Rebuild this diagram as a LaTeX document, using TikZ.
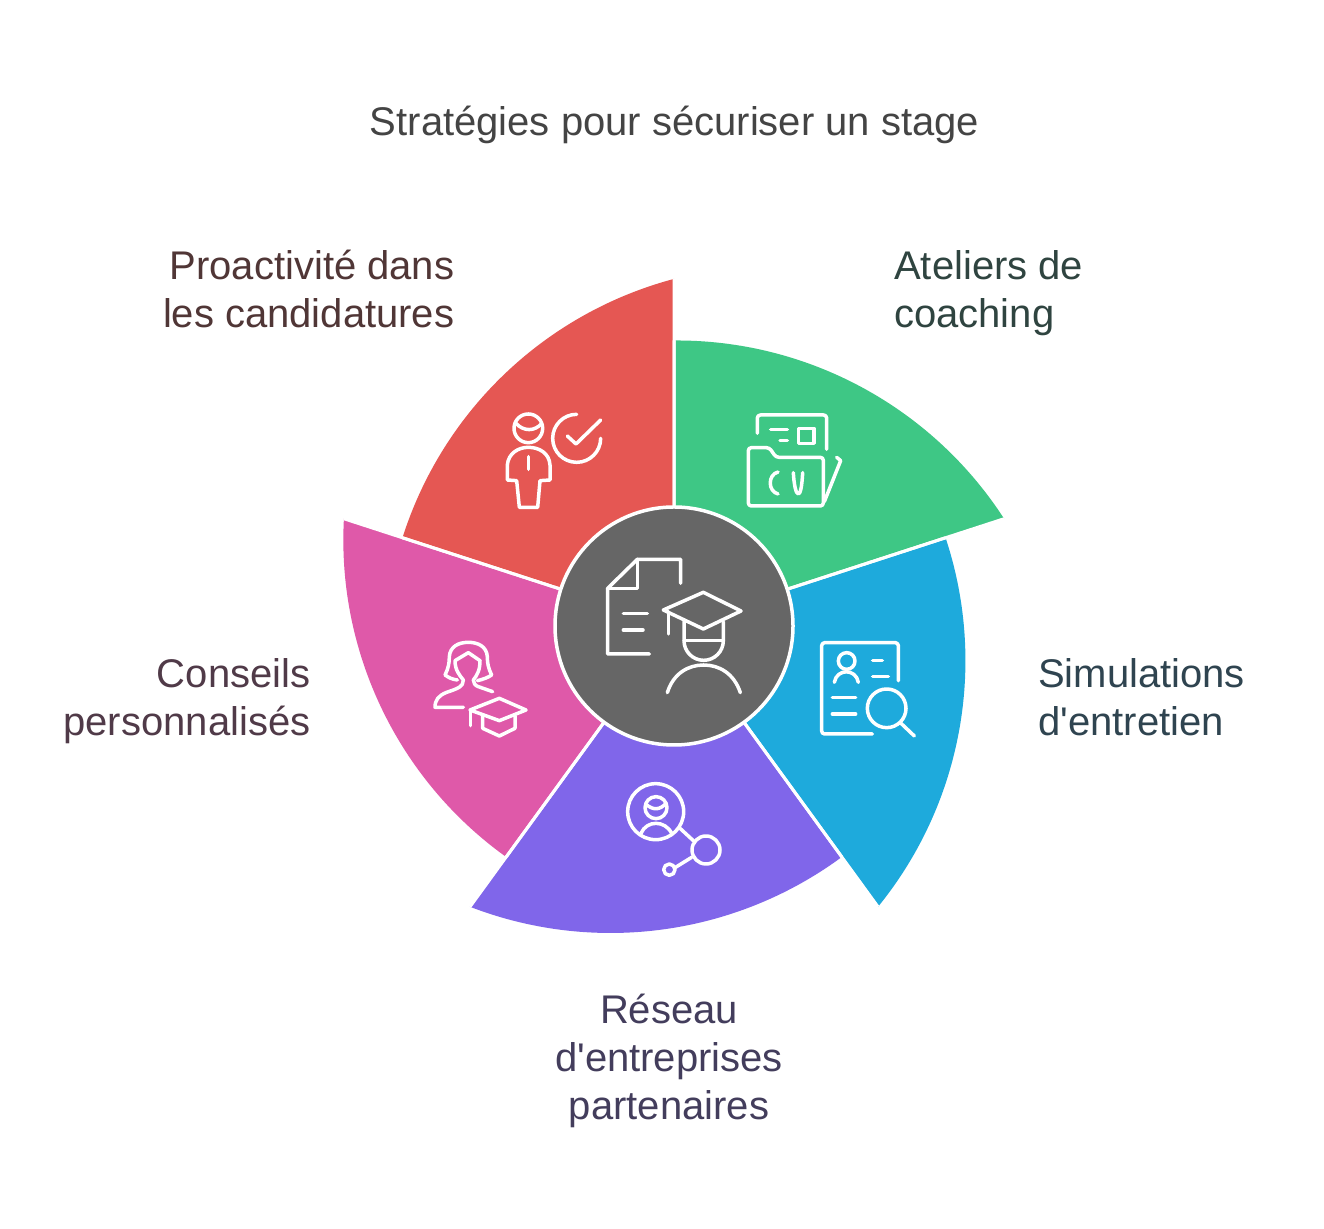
\documentclass[tikz,border=0pt]{standalone}
\usepackage{fontspec}
\newfontfamily\labelfont{Liberation Sans}
\definecolor{cRed}{HTML}{E55753}
\definecolor{cGreen}{HTML}{3EC785}
\definecolor{cBlue}{HTML}{1EAADC}
\definecolor{cPurple}{HTML}{8066EA}
\definecolor{cPink}{HTML}{DF59A9}
\definecolor{cHub}{HTML}{666666}
\definecolor{tTitle}{HTML}{444444}
\definecolor{tRed}{HTML}{503636}
\definecolor{tGreen}{HTML}{2F4440}
\definecolor{tBlue}{HTML}{2F4450}
\definecolor{tPurple}{HTML}{433D5C}
\definecolor{tPink}{HTML}{503A48}
\tikzset{
  petaledge/.style={draw=white,line width=3pt,line join=miter},
  lbl/.style={inner sep=0pt,font=\labelfont\fontsize{40}{48}\selectfont},
  ico/.style={draw=white,line width=3.5pt,line cap=round,line join=round}
}
\newcommand{\petalfill}[2]{%
  \begin{scope}[shift={(674,602)},rotate=#1]
    \fill[#2] (0,0) -- (-54:285.5) arc[start angle=-53.62,end angle=-111.14,radius=390pt] -- cycle;
  \end{scope}}
\newcommand{\petaledges}[1]{%
  \begin{scope}[shift={(674,602)},rotate=#1]
    \draw[petaledge] (-54:285.5) -- (0,0) -- (-126:347);
  \end{scope}}
\begin{document}
\begin{tikzpicture}[x=1pt,y=1pt]
\useasboundingbox (0,0) rectangle (1324,1228);
\fill[white] (0,0) rectangle (1324,1228);
\petalfill{144}{cGreen}
\petalfill{72}{cBlue}
\petalfill{0}{cPurple}
\petalfill{-72}{cPink}
\petalfill{-144}{cRed}
\petaledges{144}
\petaledges{72}
\petaledges{0}
\petaledges{-72}
\petaledges{-144}
\node[circle,fill=cHub,draw=white,line width=3.5pt,minimum size=238pt,inner sep=0pt] (hub) at (674,602) {};

\node[lbl,text=tTitle,anchor=base] (title) at (674.5,1092) {Stratégies pour sécuriser un stage};
\node[lbl,text=tRed,align=right,anchor=north east] (l1) at (454.5,978) {Proactivité dans\\les candidatures};
\node[lbl,text=tGreen,align=left,anchor=north west] (l2) at (894,978) {Ateliers de\\coaching};
\node[lbl,text=tBlue,align=left,anchor=north west] (l3) at (1038,570) {Simulations\\d'entretien};
\node[lbl,text=tPurple,align=center,anchor=north] (l4) at (669,234) {Réseau\\d'entreprises\\partenaires};
\node[lbl,text=tPink,align=right,anchor=north east] (l5) at (310.5,570) {Conseils\\personnalisés};

% hub icon
\begin{scope}[shift={(560,718)},x=0.33333pt,y=-0.33333pt]
\draw[ico] (362,220) -- (362,148) -- (232,148) -- (143,235) -- (143,432) -- (268,432);
\draw[ico] (232,148) -- (232,235) -- (143,235);
\draw[ico] (190,310) -- (262,310) (190,360) -- (249,360);
\draw[ico] (430,247) -- (543,303) -- (430,357) -- (310,300) -- cycle;
\draw[ico] (325,305) -- (325,372);
\draw[ico] (372,335) -- (372,392) arc[start angle=180,end angle=0,radius=59] -- (490,335);
\draw[ico] (372,392) -- (490,392);
\draw[ico] (322,548) .. controls (340,490) and (385,465) .. (431,465) .. controls (477,465) and (522,490) .. (541,548);
\end{scope}
% green icon
\begin{scope}[shift={(730,828)},x=0.33333pt,y=-0.33333pt]
\draw[ico,rounded corners=3pt] (82,100) -- (82,45) -- (290,45) -- (290,148);
\draw[ico] (122,88) -- (172,88) (150,122) -- (172,122);
\draw[ico] (205,85) rectangle (252,130);
\draw[ico,rounded corners=3pt] (55,143) -- (118,143) -- (138,172) -- (280,172) -- (280,318) -- (55,318) -- cycle;
\draw[ico] (144,216) .. controls (113,224) and (113,274) .. (144,282);
\draw[ico] (190,218) .. controls (192,255) and (198,282) .. (205,282) .. controls (212,282) and (216,255) .. (218,218);
\draw[ico] (283,305) -- (332,182) -- (320,172);
\end{scope}
% blue icon
\begin{scope}[shift={(805,598)},x=0.33333pt,y=-0.33333pt]
\draw[ico,rounded corners=3pt] (280,152) -- (280,38) -- (50,38) -- (50,312) -- (202,312);
\draw[ico] (125,93) circle[radius=25];
\draw[ico] (88,157) .. controls (95,115) and (153,115) .. (160,157);
\draw[ico] (203,92) -- (232,92) (203,140) -- (250,140) (82,202) -- (152,202) (82,252) -- (152,252);
\draw[ico] (245,235) circle[radius=58];
\draw[ico] (288,280) -- (328,318);
\end{scope}
% purple icon
\begin{scope}[shift={(610,458)},x=0.33333pt,y=-0.33333pt]
\draw[ico] (137,125) circle[radius=84];
\draw[ico] (138,113) circle[radius=33];
\draw[ico] (108,103) .. controls (130,122) and (150,120) .. (168,100);
\draw[ico] (93,190) .. controls (110,150) and (165,150) .. (185,190);
\draw[ico] (210,175) -- (250,212);
\draw[ico] (288,240) circle[radius=42];
\draw[ico] (245,262) -- (195,293);
\draw[ico] (178,299) circle[radius=17];
\end{scope}
% pink icon
\begin{scope}[shift={(420,598)},x=0.33333pt,y=-0.33333pt]
\draw[ico] (112,150) .. controls (95,148) and (85,142) .. (75,135) .. controls (85,115) and (88,100) .. (88,80) .. controls (90,50) and (115,37) .. (145,37) .. controls (175,37) and (200,50) .. (202,80) .. controls (202,100) and (205,115) .. (215,135) .. controls (205,142) and (190,148) .. (172,152);
\draw[ico] (218,185) -- (175,170) .. controls (165,166) and (160,160) .. (160,150) .. controls (172,135) and (180,120) .. (180,92) -- (145,68) -- (105,92) .. controls (105,120) and (118,135) .. (130,150) .. controls (130,170) and (115,175) .. (80,187) .. controls (55,197) and (45,210) .. (45,232) -- (130,232);
\draw[ico] (238,205) -- (318,240) -- (238,272) -- (150,240) -- cycle;
\draw[ico] (152,240) -- (152,287);
\draw[ico] (188,255) -- (188,295) -- (238,318) -- (285,295) -- (285,258);
\end{scope}
% red icon
\begin{scope}[shift={(490,828)},x=0.33333pt,y=-0.33333pt]
\draw[ico] (115,85) circle[radius=43];
\draw[ico] (78,70) .. controls (100,95) and (135,95) .. (155,70);
\draw[ico] (52,240) -- (52,195) .. controls (55,160) and (85,142) .. (115,142) .. controls (148,142) and (178,160) .. (180,195) -- (180,240) -- (150,242) -- (143,322) -- (88,322) -- (80,242) -- cycle;
\draw[ico] (115,170) -- (115,208);
\draw[ico] (260,43) arc[start angle=270,end angle=0,radius=72];
\draw[ico] (232,108) -- (258,132) -- (332,60);
\end{scope}
\end{tikzpicture}
\end{document}
